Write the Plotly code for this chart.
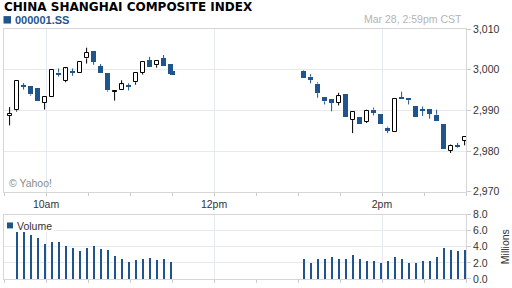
import pandas as pd
import plotly.graph_objects as go

# ---------------- data ----------------
am_times = list(pd.date_range("2013-03-28 09:34", periods=24, freq="5min")) + [pd.Timestamp("2013-03-28 11:30:30")]
pm_times = list(pd.date_range("2013-03-28 13:04", periods=24, freq="5min"))

am_open = [2988.6, 2990.0, 2996.0, 2995.9, 2995.4, 2991.8, 2993.2, 2999.3, 2997.3, 2999.55, 2999.3, 3002.75,
           3004.5, 3000.8, 2999.3, 2994.55, 2994.9, 2995.9, 2996.9, 2999.3, 3002.3, 3001.1, 3002.8, 3001.4, 2999.6]
am_high = [2990.8, 2997.1, 2996.7, 2995.9, 2995.4, 2993.2, 3000.0, 3000.3, 3000.5, 3000.3, 3001.8, 3005.4,
           3004.6, 3001.4, 2999.3, 2994.65, 2997.4, 2996.65, 2999.3, 3001.8, 3003.15, 3002.2, 3003.6, 3001.4, 2999.6]
am_low = [2986.3, 2989.7, 2995.1, 2993.6, 2992.2, 2990.2, 2993.2, 2998.3, 2996.9, 2998.5, 2999.3, 3001.5,
          3001.2, 2999.25, 2994.6, 2992.4, 2994.9, 2994.9, 2996.3, 2998.8, 3000.55, 3000.5, 3001.0, 2998.9, 2998.8]
am_close = [2989.1, 2997.1, 2995.85, 2993.9, 2992.2, 2993.2, 3000.0, 2998.8, 3000.3, 2999.4, 3001.8, 3004.2,
            3001.9, 2999.25, 2994.9, 2994.65, 2996.4, 2995.75, 2999.3, 3001.8, 3000.55, 3002.2, 3001.0, 2998.9, 2998.8]
am_volume = [None, 5.9, 5.9, 5.5, 5.1, 4.35, 4.6, 4.6, 4.2, 3.85, 3.5, 3.85, 4.1, 3.8, 3.6, 2.9, 2.55, 2.15,
             2.4, 2.55, 2.65, 2.4, 2.55, 2.15, None]

pm_open = [2999.75, 2998.3, 2996.6, 2993.3, 2992.8, 2991.85, 2994.1, 2987.6, 2988.45, 2987.15, 2990.2, 2989.2,
           2985.75, 2984.7, 2993.25, 2993.05, 2991.1, 2990.05, 2990.4, 2988.95, 2986.7, 2980.05, 2981.3, 2982.5]
pm_high = [2999.9, 2998.9, 2996.9, 2993.3, 2992.8, 2994.3, 2994.1, 2989.7, 2988.45, 2990.15, 2990.7, 2989.2,
           2986.0, 2992.8, 2994.6, 2993.05, 2991.1, 2990.95, 2990.4, 2990.15, 2986.7, 2981.6, 2982.0, 2983.4]
pm_low = [2997.9, 2996.65, 2993.1, 2991.45, 2989.75, 2991.2, 2988.3, 2984.4, 2986.6, 2986.9, 2988.75, 2986.6,
          2984.4, 2984.7, 2992.9, 2991.45, 2988.3, 2988.6, 2987.95, 2987.45, 2980.4, 2979.5, 2980.8, 2981.4]
pm_close = [2997.9, 2997.55, 2994.2, 2992.2, 2991.9, 2993.5, 2988.3, 2989.7, 2986.6, 2989.9, 2989.35, 2986.6,
            2984.95, 2992.8, 2992.9, 2992.5, 2988.3, 2989.9, 2989.1, 2987.45, 2980.4, 2981.35, 2981.2, 2983.4]
pm_volume = [2.5, 2.0, 2.6, 2.6, 2.75, 2.6, 2.6, 3.0, 2.5, 2.35, 2.35, 2.1, 2.35, 2.75, 2.5, 2.0, 2.1, 2.25,
             2.35, 2.75, 3.85, 3.6, 3.5, 3.6]

y_ticks = [2970, 2980, 2990, 3000, 3010]
vol_ticks = [0, 2, 4, 6, 8]
x_tick_vals = ["2013-03-28 10:00", "2013-03-28 12:00", "2013-03-28 14:00"]
x_tick_text = ["10am", "12pm", "2pm"]

# ---------------- style ----------------
BLUE = "#1f558c"
GRID = "#e6e9ef"
BORDER = "#d6d6d6"
TXT = "#333333"
FONT = "Liberation Sans"
W, H = 512, 288
ML, MR, MT, MB = 3, 46, 29, 7
PW, PH = W - ML - MR, H - MT - MB


def fx(px):
    return (px - ML) / PW


def fy(py):
    return (H - MB - py) / PH


times = am_times + pm_times
o = am_open + pm_open
h = am_high + pm_high
l = am_low + pm_low
c = am_close + pm_close
vol = am_volume + pm_volume

body_w = 3.4 * 60 * 1000
min_body = 0.25

up_x, up_base, up_h, up_fill = [], [], [], []
dn_x, dn_base, dn_h = [], [], []
wick_up_x, wick_up_y, wick_dn_x, wick_dn_y = [], [], [], []
for t, oo, hh, ll, cc in zip(times, o, h, l, c):
    lo, hi = min(oo, cc), max(oo, cc)
    size = max(hi - lo, min_body)
    if cc >= oo:
        up_x.append(t); up_base.append(lo); up_h.append(size)
        up_fill.append("white" if hi - lo >= 0.3 else "black")
        wx, wy = wick_up_x, wick_up_y
    else:
        dn_x.append(t); dn_base.append(lo); dn_h.append(size)
        wx, wy = wick_dn_x, wick_dn_y
    wx += [t, t, None, t, t, None]
    wy += [hh, lo + size, None, lo, ll, None]

fig = go.Figure()
fig.add_trace(go.Scatter(x=wick_up_x, y=wick_up_y, mode="lines", line=dict(color="black", width=1),
                         hoverinfo="skip", showlegend=False))
fig.add_trace(go.Scatter(x=wick_dn_x, y=wick_dn_y, mode="lines", line=dict(color=BLUE, width=1),
                         hoverinfo="skip", showlegend=False))
fig.add_trace(go.Bar(x=up_x, y=up_h, base=up_base, width=body_w * 0.85,
                     marker=dict(color=up_fill, line=dict(color="black", width=1)), showlegend=False))
fig.add_trace(go.Bar(x=dn_x, y=dn_h, base=dn_base, width=body_w,
                     marker=dict(color=BLUE, line=dict(width=0)), showlegend=False))
fig.add_trace(go.Bar(x=times, y=vol, width=40000, xaxis="x2", yaxis="y2",
                     marker=dict(color=BLUE, line=dict(width=0)), showlegend=False))

xcommon = dict(type="date", range=["2013-03-28 09:30", "2013-03-28 15:00"],
               tickmode="array", tickvals=x_tick_vals, ticktext=x_tick_text,
               showgrid=True, gridcolor=GRID, gridwidth=1,
               showline=True, mirror=True, linecolor=BORDER, linewidth=1,
               ticks="outside", ticklen=3, tickcolor="#cccccc",
               minor=dict(tickmode="linear", tick0="2013-03-28 09:30", dtick=1800000,
                          ticks="outside", ticklen=3, tickcolor="#cccccc", showgrid=False),
               tickfont=dict(family=FONT, size=10.5, color=TXT), zeroline=False)

fig.update_layout(
    width=W, height=H, margin=dict(l=ML, r=MR, t=MT, b=MB, pad=0),
    paper_bgcolor="white", plot_bgcolor="white", barmode="overlay", bargap=0,
    font=dict(family=FONT, size=10.5, color=TXT),
    xaxis=dict(xcommon, domain=[0, 1], anchor="y", showticklabels=True),
    xaxis2=dict(xcommon, domain=[0, 1], anchor="y2", matches="x", showticklabels=False),
    yaxis=dict(domain=[fy(193), 1], range=[2970, 3010], side="right", tickmode="array",
               tickvals=y_ticks, tickformat=",d", showgrid=True, gridcolor=GRID,
               showline=True, mirror=True, linecolor=BORDER, ticks="outside", ticklen=4,
               tickcolor="#cccccc", tickfont=dict(family=FONT, size=10.5, color=TXT), zeroline=False),
    yaxis2=dict(domain=[0, fy(216)], range=[0, 8], side="right", tickmode="array",
                tickvals=vol_ticks, tickformat=".1f", showgrid=True, gridcolor=GRID,
                showline=True, mirror=True, linecolor=BORDER, ticks="outside", ticklen=4,
                tickcolor="#cccccc", tickfont=dict(family=FONT, size=10.5, color=TXT), zeroline=False),
)

ann = [
    dict(text="<b>CHINA SHANGHAI COMPOSITE INDEX</b>", x=fx(1), y=fy(7), xanchor="left", yanchor="middle",
         font=dict(family="DejaVu Sans", size=12, color="black")),
    dict(text="<b>000001.SS</b>", x=fx(12), y=fy(20.3), xanchor="left", yanchor="middle",
         font=dict(family=FONT, size=11, color=BLUE)),
    dict(text="Mar 28, 2:59pm CST", x=fx(464), y=fy(18.5), xanchor="right", yanchor="middle",
         font=dict(family=FONT, size=10.5, color="#b4b4b4")),
    dict(text="© Yahoo!", x=fx(6), y=fy(184.5), xanchor="left", yanchor="middle",
         font=dict(family=FONT, size=10.5, color="#8a8a8a")),
    dict(text="Volume", x=fx(14.5), y=fy(227.5), xanchor="left", yanchor="middle",
         font=dict(family=FONT, size=10.5, color=TXT)),
    dict(text="Millions", x=fx(505), y=fy(248), xanchor="center", yanchor="middle", textangle=-90,
         font=dict(family=FONT, size=10.5, color=TXT)),
]
for a in ann:
    a.update(xref="paper", yref="paper", showarrow=False)
fig.update_layout(annotations=ann)

fig.update_layout(shapes=[
    dict(type="rect", xref="paper", yref="paper", x0=fx(2.5), x1=fx(10), y0=fy(23.5), y1=fy(16),
         fillcolor=BLUE, line=dict(width=0)),
    dict(type="rect", xref="paper", yref="paper", x0=fx(3.6), x1=fx(53), y0=fy(233.5), y1=fy(216.6),
         fillcolor="white", line=dict(width=0), layer="above"),
    dict(type="rect", xref="paper", yref="paper", x0=fx(6), x1=fx(12), y0=fy(230), y1=fy(224),
         fillcolor=BLUE, line=dict(width=0), layer="above"),
])

fig.write_html("out.html")
